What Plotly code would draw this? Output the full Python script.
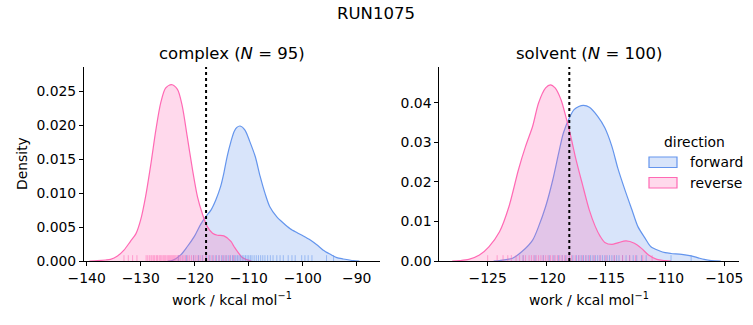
import plotly.graph_objects as go

# ---------------- data ----------------
# KDE curves: complex
cx_rev_x = [-139.5, -138.0, -136.5, -135.6, -134.3, -133.1, -131.9, -130.9, -130.0, -129.1,
            -128.1, -127.2, -126.3, -125.4, -124.3, -123.2, -122.3, -121.4, -120.4, -119.5,
            -118.6, -117.7, -116.7, -115.8, -114.6, -113.3, -112.7, -111.3, -110.4, -109.5]
cx_rev_y = [0.0, 0.00005, 0.00015, 0.00025, 0.00074, 0.0016, 0.0029, 0.0040, 0.0061, 0.0095,
            0.0144, 0.0193, 0.0233, 0.0255, 0.0260, 0.0253, 0.0228, 0.0184, 0.0134, 0.0095,
            0.0070, 0.0051, 0.0041, 0.0038, 0.0037, 0.0029, 0.0021, 0.0006, 0.0002, 0.0]
cx_fwd_x = [-125.0, -124.1, -122.6, -121.4, -120.1, -118.9, -118.0, -117.0, -116.1, -115.2,
            -114.6, -114.0, -113.3, -112.7, -112.2, -111.6, -110.7, -109.8, -108.8, -107.9,
            -107.0, -106.1, -104.8, -103.6, -102.4, -101.1, -99.9, -98.6, -97.4, -96.2,
            -94.9, -93.7, -92.5, -90.6, -89.5]
cx_fwd_y = [0.0, 0.0001, 0.0009, 0.0021, 0.0036, 0.0054, 0.0065, 0.0075, 0.0090, 0.0110,
            0.0130, 0.0154, 0.0176, 0.0191, 0.0197, 0.0199, 0.0193, 0.0176, 0.0154, 0.0125,
            0.0100, 0.0080, 0.0065, 0.0056, 0.0048, 0.0042, 0.0037, 0.0031, 0.0024, 0.0016,
            0.0010, 0.0005, 0.0003, 0.00005, 0.0]
# KDE curves: solvent
sv_rev_x = [-128.0, -127.4, -126.6, -125.7, -124.9, -124.0, -123.2, -122.4, -121.8, -121.2,
            -120.7, -120.1, -119.7, -119.3, -118.8, -118.4, -118.1, -117.6, -117.0, -116.4,
            -115.9, -115.5, -115.1, -114.5, -114.0, -113.3, -112.6, -112.0, -111.4, -110.7,
            -110.0, -109.5]
sv_rev_y = [0.0, 0.0001, 0.0004, 0.0015, 0.0036, 0.0074, 0.0138, 0.0231, 0.0290, 0.0341,
            0.0400, 0.0438, 0.0446, 0.0438, 0.0408, 0.0366, 0.0332, 0.0265, 0.0195, 0.0128,
            0.0087, 0.0063, 0.0047, 0.0042, 0.0046, 0.0051, 0.0045, 0.0032, 0.0015, 0.0004,
            0.0001, 0.0]
sv_fwd_x = [-124.5, -124.0, -122.9, -122.1, -121.2, -120.7, -120.1, -119.5, -119.0, -118.6,
            -118.1, -117.7, -117.3, -116.9, -116.4, -115.7, -115.1, -114.5, -114.0, -113.4,
            -112.8, -112.3, -111.7, -111.2, -110.5, -110.0, -109.5, -108.6, -107.8, -107.2,
            -106.7, -106.1, -105.3]
sv_fwd_y = [0.0, 0.0001, 0.0007, 0.0024, 0.0053, 0.0087, 0.0138, 0.0205, 0.0273, 0.0324,
            0.0362, 0.0383, 0.0391, 0.0394, 0.0389, 0.0366, 0.0337, 0.0290, 0.0235, 0.0180,
            0.0129, 0.0087, 0.0058, 0.0036, 0.0026, 0.0021, 0.0019, 0.0017, 0.0013, 0.0008,
            0.0004, 0.0001, 0.0]

# rug values (individual work values)
cx_rev_rug = [-133.1, -132.3, -131.5, -130.7, -129.0, -128.7, -128.4, -128.1, -127.9, -127.6,
              -127.4, -127.1, -126.9, -126.6, -126.4, -126.2, -125.9, -125.7, -125.5, -125.3,
              -125.0, -124.8, -124.6, -124.4, -124.2, -124.0, -123.8, -123.6, -123.3, -123.1,
              -122.9, -122.6, -122.3, -122.0, -121.7, -121.3, -121.0, -120.6, -120.2, -119.8,
              -119.4, -119.0, -118.5, -118.0, -117.4, -116.8, -116.2, -115.5, -114.8, -114.2,
              -113.5, -112.8]
cx_fwd_rug = [-123.0, -121.5, -120.2, -119.3, -118.6, -117.8, -117.2, -116.6, -116.0, -115.5,
              -115.0, -114.6, -114.2, -113.8, -113.4, -113.0, -112.7, -112.4, -112.1, -111.8,
              -111.5, -111.2, -110.9, -110.6, -110.3, -110.0, -109.7, -109.4, -109.0, -108.6,
              -108.2, -107.8, -107.4, -107.0, -106.5, -106.0, -105.5, -104.8, -104.2, -103.6,
              -102.7, -102.0, -101.4, -100.2, -99.6, -99.0, -98.3, -95.6, -94.3]
sv_rev_rug = [-125.0, -124.2, -123.7, -123.3, -123.0, -122.6, -122.3, -122.0, -121.8, -121.5,
              -121.3, -121.1, -120.9, -120.7, -120.5, -120.3, -120.1, -119.9, -119.7, -119.5,
              -119.3, -119.1, -118.9, -118.7, -118.5, -118.3, -118.1, -117.9, -117.6, -117.3,
              -117.0, -116.7, -116.4, -116.0, -115.5, -115.0, -114.3, -113.6, -113.0, -112.5,
              -111.9, -111.1]
sv_fwd_rug = [-122.0, -121.0, -120.3, -119.8, -119.4, -119.0, -118.7, -118.4, -118.1, -117.8,
              -117.5, -117.3, -117.1, -116.9, -116.7, -116.5, -116.3, -116.1, -115.9, -115.7,
              -115.5, -115.3, -115.1, -114.9, -114.7, -114.5, -114.3, -114.1, -113.9, -113.6,
              -113.3, -113.0, -112.7, -112.4, -112.0, -111.6, -109.5, -107.8]

# reference lines (dotted)
cx_ref = -117.9
sv_ref = -118.1

titles = ["complex (<i>N</i> = 95)", "solvent (<i>N</i> = 100)"]
legend_title = "direction"
legend_labels = ["forward", "reverse"]
cx_xticks = [-140, -130, -120, -110, -100, -90]
sv_xticks = [-125, -120, -115, -110, -105]
cx_yticks = [0.0, 0.005, 0.010, 0.015, 0.020, 0.025]
sv_yticks = [0.00, 0.01, 0.02, 0.03, 0.04]

# ---------------- styling ----------------
BLUE = "#6495ED"
PINK = "#FF69B4"
BLUE_FILL = "rgba(100,149,237,0.25)"
PINK_FILL = "rgba(255,105,180,0.25)"
FONT = "DejaVu Sans"
TS = 13.9

W, H = 753, 325
def px_x(a, b):
    return [a / W, b / W]
def px_y(top, bottom):
    return [(H - bottom) / H, (H - top) / H]

fig = go.Figure()

def kde(x, y, color, fill, name, xa, ya):
    fig.add_trace(go.Scatter(
        x=x, y=y, mode="lines", line=dict(color=color, width=1.2, shape="spline", smoothing=0.8),
        fill="tozeroy", fillcolor=fill, name=name, showlegend=False,
        xaxis=xa, yaxis=ya, hoverinfo="skip"))

def rug(vals, color, xa, ya):
    xs, ys = [], []
    for v in vals:
        xs += [v, v, None]
        ys += [0, 0.03, None]
    fig.add_trace(go.Scatter(x=xs, y=ys, mode="lines", line=dict(color=color, width=1),
                             showlegend=False, xaxis=xa, yaxis=ya, hoverinfo="skip"))

# complex
kde(cx_fwd_x, cx_fwd_y, BLUE, BLUE_FILL, "forward", "x", "y")
kde(cx_rev_x, cx_rev_y, PINK, PINK_FILL, "reverse", "x", "y")
rug(cx_fwd_rug, "rgba(100,149,237,0.55)", "x", "y3")
rug(cx_rev_rug, "rgba(255,105,180,0.55)", "x", "y3")
# solvent
kde(sv_fwd_x, sv_fwd_y, BLUE, BLUE_FILL, "forward", "x2", "y2")
kde(sv_rev_x, sv_rev_y, PINK, PINK_FILL, "reverse", "x2", "y2")
rug(sv_fwd_rug, "rgba(100,149,237,0.55)", "x2", "y4")
rug(sv_rev_rug, "rgba(255,105,180,0.55)", "x2", "y4")

axis_common = dict(showline=True, linecolor="black", linewidth=1, ticks="outside",
                   ticklen=4, tickwidth=1, tickcolor="black", showgrid=False, zeroline=False,
                   mirror=False, automargin=False,
                   tickfont=dict(family=FONT, size=TS, color="black"))

def ann(text, x, y, size=TS, **kw):
    return dict(text=text, x=x / W, y=1 - y / H, xref="paper", yref="paper", showarrow=False,
                font=dict(family=FONT, size=size, color="black"), **kw)

annotations = [
    ann("RUN1075", 376, 13, 16.5, xanchor="center", yanchor="middle"),
    ann(titles[0], 232, 54, 16.5, xanchor="center", yanchor="middle"),
    ann(titles[1], 589, 54, 16.5, xanchor="center", yanchor="middle"),
    ann("work / kcal mol<sup>−1</sup>", 232, 299, xanchor="center", yanchor="middle"),
    ann("work / kcal mol<sup>−1</sup>", 589, 299, xanchor="center", yanchor="middle"),
    ann("Density", 22, 164, xanchor="center", yanchor="middle", textangle=-90),
    ann(legend_title, 694, 142, xanchor="center", yanchor="middle"),
    ann(legend_labels[0], 688, 162, xanchor="left", yanchor="middle"),
    ann(legend_labels[1], 688, 183, xanchor="left", yanchor="middle"),
]

shapes = [
    dict(type="line", xref="x", yref="y domain", x0=cx_ref, x1=cx_ref, y0=0, y1=1,
         line=dict(color="black", width=2, dash="dot")),
    dict(type="line", xref="x2", yref="y2 domain", x0=sv_ref, x1=sv_ref, y0=0, y1=1,
         line=dict(color="black", width=2, dash="dot")),
    # legend patches
    dict(type="rect", xref="paper", yref="paper", x0=649 / W, x1=677 / W,
         y0=1 - 167.5 / H, y1=1 - 157 / H, fillcolor=BLUE_FILL, line=dict(color=BLUE, width=1.2)),
    dict(type="rect", xref="paper", yref="paper", x0=649 / W, x1=677 / W,
         y0=1 - 188 / H, y1=1 - 177.5 / H, fillcolor=PINK_FILL, line=dict(color=PINK, width=1.2)),
]

fig.update_layout(
    width=W, height=H, margin=dict(l=0, r=0, t=0, b=0),
    plot_bgcolor="white", paper_bgcolor="white",
    font=dict(family=FONT, color="black"), showlegend=False,
    xaxis=dict(domain=px_x(84, 380), range=[-140.5, -85.7], tickvals=cx_xticks,
               anchor="y", **axis_common),
    yaxis=dict(domain=px_y(67, 261), range=[0, 0.0286], tickvals=cx_yticks, tickformat=".3f",
               anchor="x", **axis_common),
    xaxis2=dict(domain=px_x(439.3, 739.3), range=[-129.09, -103.73], tickvals=sv_xticks,
                anchor="y2", **axis_common),
    yaxis2=dict(domain=px_y(67, 261), range=[0, 0.0491], tickvals=sv_yticks, tickformat=".2f",
                anchor="x2", **axis_common),
    yaxis3=dict(domain=px_y(67, 261), range=[0, 1], overlaying="y", anchor="x", visible=False),
    yaxis4=dict(domain=px_y(67, 261), range=[0, 1], overlaying="y2", anchor="x2", visible=False),
    shapes=shapes,
    annotations=annotations,
)

fig.write_html("out.html")
